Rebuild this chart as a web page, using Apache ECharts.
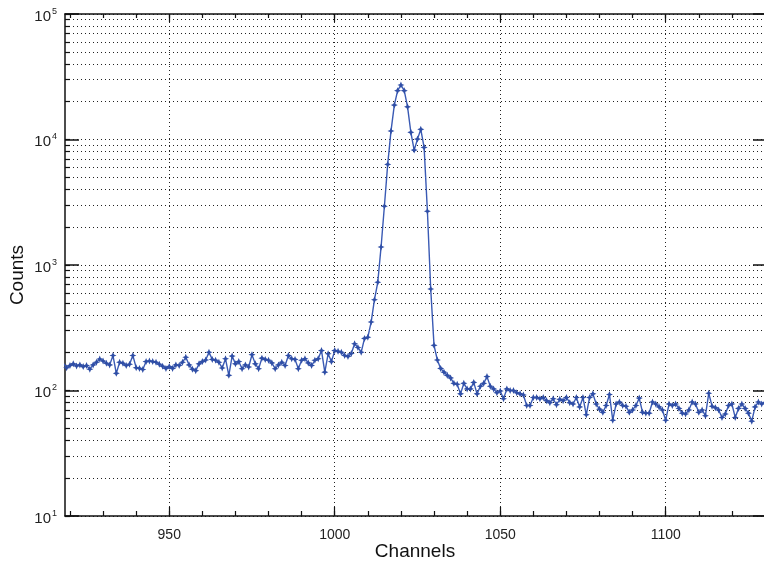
<!DOCTYPE html>
<html>
<head>
<meta charset="utf-8">
<script src="https://cdn.jsdelivr.net/npm/echarts@6/dist/echarts.min.js"></script>
<style>
  html, body { margin: 0; padding: 0; background: #fff; }
  #main { width: 764px; height: 567px; }
</style>
</head>
<body>
<div id="main"></div>
<script>
// spectrum: one count per channel, starting at channel 918
const startChannel = 918
const counts = [
  165, 152, 158, 163, 157, 160, 155, 158, 148, 160,
  168, 178, 172, 165, 160, 190, 137, 168, 165, 158,
  162, 190, 152, 150, 147, 170, 172, 170, 168, 162,
  156, 150, 155, 150, 160, 158, 168, 184, 160, 148,
  144, 163, 170, 175, 202,
  177, 174, 168, 151, 179, 132, 188, 163, 170, 149,
  160, 154, 193, 163, 149, 181, 177, 174, 166, 149,
  160, 168, 158, 190, 179, 177, 149, 174, 179, 166,
  158, 174, 179, 208, 140, 196, 170, 208, 205, 202,
  190, 187, 197,
  236, 220, 202, 260, 266, 351, 529, 728, 1393, 2940,
  6330, 11700, 18800, 24500, 27200, 24500, 18200, 11400, 8230, 10070,
  12050, 8650, 2680, 643, 229, 175, 150, 140,
  132, 126, 114, 112, 94, 114, 103, 103, 116, 94,
  108, 114, 129, 108, 103, 96, 99, 86, 103, 100,
  100, 96, 94, 92, 76, 76, 88, 88, 86, 88,
  83, 80, 86, 77, 85, 83, 88, 80, 78, 88,
  74, 88, 64, 88, 94, 78, 71, 67, 76, 93,
  58, 78, 81, 76, 75, 67, 70, 76, 87, 67,
  66, 66, 81, 78, 74, 70, 58, 78, 76, 78,
  72, 66, 65, 70, 81, 78, 67, 70, 63, 95,
  75, 73, 70, 61, 65, 76, 78, 61, 72, 78,
  72, 66, 57, 74, 81, 78, 80
]

const xMajorTicks = [950, 1000, 1050, 1100]
const xMinorTicks = [920, 930, 940, 950, 960, 970, 980, 990, 1000, 1010, 1020, 1030,
  1040, 1050, 1060, 1070, 1080, 1090, 1100, 1110, 1120, 1130]
const yDecades = [10, 100, 1000, 10000, 100000]
const yGridValues = [
  10, 20, 30, 40, 50, 60, 70, 80, 90,
  100, 200, 300, 400, 500, 600, 700, 800, 900,
  1000, 2000, 3000, 4000, 5000, 6000, 7000, 8000, 9000,
  10000, 20000, 30000, 40000, 50000, 60000, 70000, 80000, 90000,
  100000
]

const points = counts.map((c, i) => [startChannel + i, c])

const ink = '#111'
const dots = { color: '#222', width: 1, type: [1, 3] }

function xAxisBase (extra) {
  return Object.assign({
    type: 'value',
    min: 918.5,
    max: 1130,
    axisLine: { show: false },
    axisTick: { show: false },
    axisLabel: { show: false },
    splitLine: { show: false }
  }, extra)
}

function yAxisBase (extra) {
  return Object.assign({
    type: 'log',
    logBase: 10,
    min: 10,
    max: 100000,
    axisLine: { show: false },
    axisTick: { show: false },
    axisLabel: { show: false },
    splitLine: { show: false }
  }, extra)
}

const chart = echarts.init(document.getElementById('main'))
chart.setOption({
  animation: false,
  backgroundColor: '#fff',
  // keep the plot box fixed, labels may sit near the edge
  grid: { left: 65, right: -1, top: 14, bottom: 51, containLabel: false, outerBoundsMode: 'none' },
  xAxis: [
    xAxisBase({
      position: 'bottom',
      name: 'Channels',
      nameLocation: 'middle',
      nameGap: 26,
      nameMoveOverlap: false,
      nameTextStyle: { fontFamily: 'Liberation Sans', fontSize: 19, color: ink },
      axisLine: { show: true, lineStyle: { color: ink, width: 1.5 } },
      axisTick: { show: true, inside: true, length: 9, customValues: xMajorTicks, lineStyle: { color: ink, width: 1.2 } },
      axisLabel: {
        show: true,
        customValues: xMajorTicks,
        margin: 12,
        formatter: (v) => String(v),
        fontFamily: 'Liberation Sans',
        fontSize: 14,
        color: '#222'
      },
      splitLine: { show: true, lineStyle: dots }
    }),
    xAxisBase({
      position: 'bottom',
      axisTick: { show: true, inside: true, length: 5, customValues: xMinorTicks, lineStyle: { color: ink, width: 1.2 } }
    }),
    xAxisBase({
      position: 'top',
      axisLine: { show: true, lineStyle: { color: ink, width: 1.5 } },
      axisTick: { show: true, inside: true, length: 4, customValues: xMinorTicks, lineStyle: { color: ink, width: 1.2 } }
    }),
    xAxisBase({
      position: 'top',
      axisTick: { show: true, inside: true, length: 8, customValues: xMajorTicks, lineStyle: { color: ink, width: 1.2 } }
    })
  ],
  yAxis: [
    yAxisBase({
      position: 'left',
      name: 'Counts',
      nameLocation: 'middle',
      nameGap: 38,
      nameMoveOverlap: false,
      nameTextStyle: { fontFamily: 'Liberation Sans', fontSize: 19, color: ink, padding: [0, 20, 0, 0] },
      axisLine: { show: true, lineStyle: { color: ink, width: 1.5 } },
      axisTick: { show: true, inside: true, length: 5, customValues: yGridValues, lineStyle: { color: ink, width: 1.2 } },
      axisLabel: {
        show: true,
        customValues: yDecades,
        margin: 8,
        padding: [5, 0, 0, 0],
        formatter: (v) => '{b|10}{s|' + Math.round(Math.log10(v)) + '}',
        rich: {
          b: { fontFamily: 'Liberation Sans', fontSize: 15, color: '#222' },
          s: { fontFamily: 'Liberation Sans', fontSize: 9, color: '#222', padding: [0, 0, 10, 1] }
        }
      },
      splitLine: { show: true, lineStyle: dots }
    }),
    yAxisBase({
      position: 'left',
      axisTick: { show: true, inside: true, length: 14, customValues: yDecades, lineStyle: { color: ink, width: 1.5 } }
    }),
    yAxisBase({
      position: 'right',
      axisLine: { show: true, lineStyle: { color: ink, width: 1.5 } },
      axisTick: { show: true, inside: true, length: 12, customValues: yDecades, lineStyle: { color: ink, width: 1.5 } }
    })
  ],
  series: [
    {
      type: 'line',
      xAxisIndex: 0,
      yAxisIndex: 0,
      data: points,
      symbol: 'path://M0,-1 L0.3,-0.3 L1,0 L0.3,0.3 L0,1 L-0.3,0.3 L-1,0 L-0.3,-0.3 Z',
      symbolSize: 7,
      itemStyle: { color: '#2f4ea6' },
      lineStyle: { color: '#3a5ab4', width: 1.4 },
      clip: true
    }
  ]
})
</script>
</body>
</html>
